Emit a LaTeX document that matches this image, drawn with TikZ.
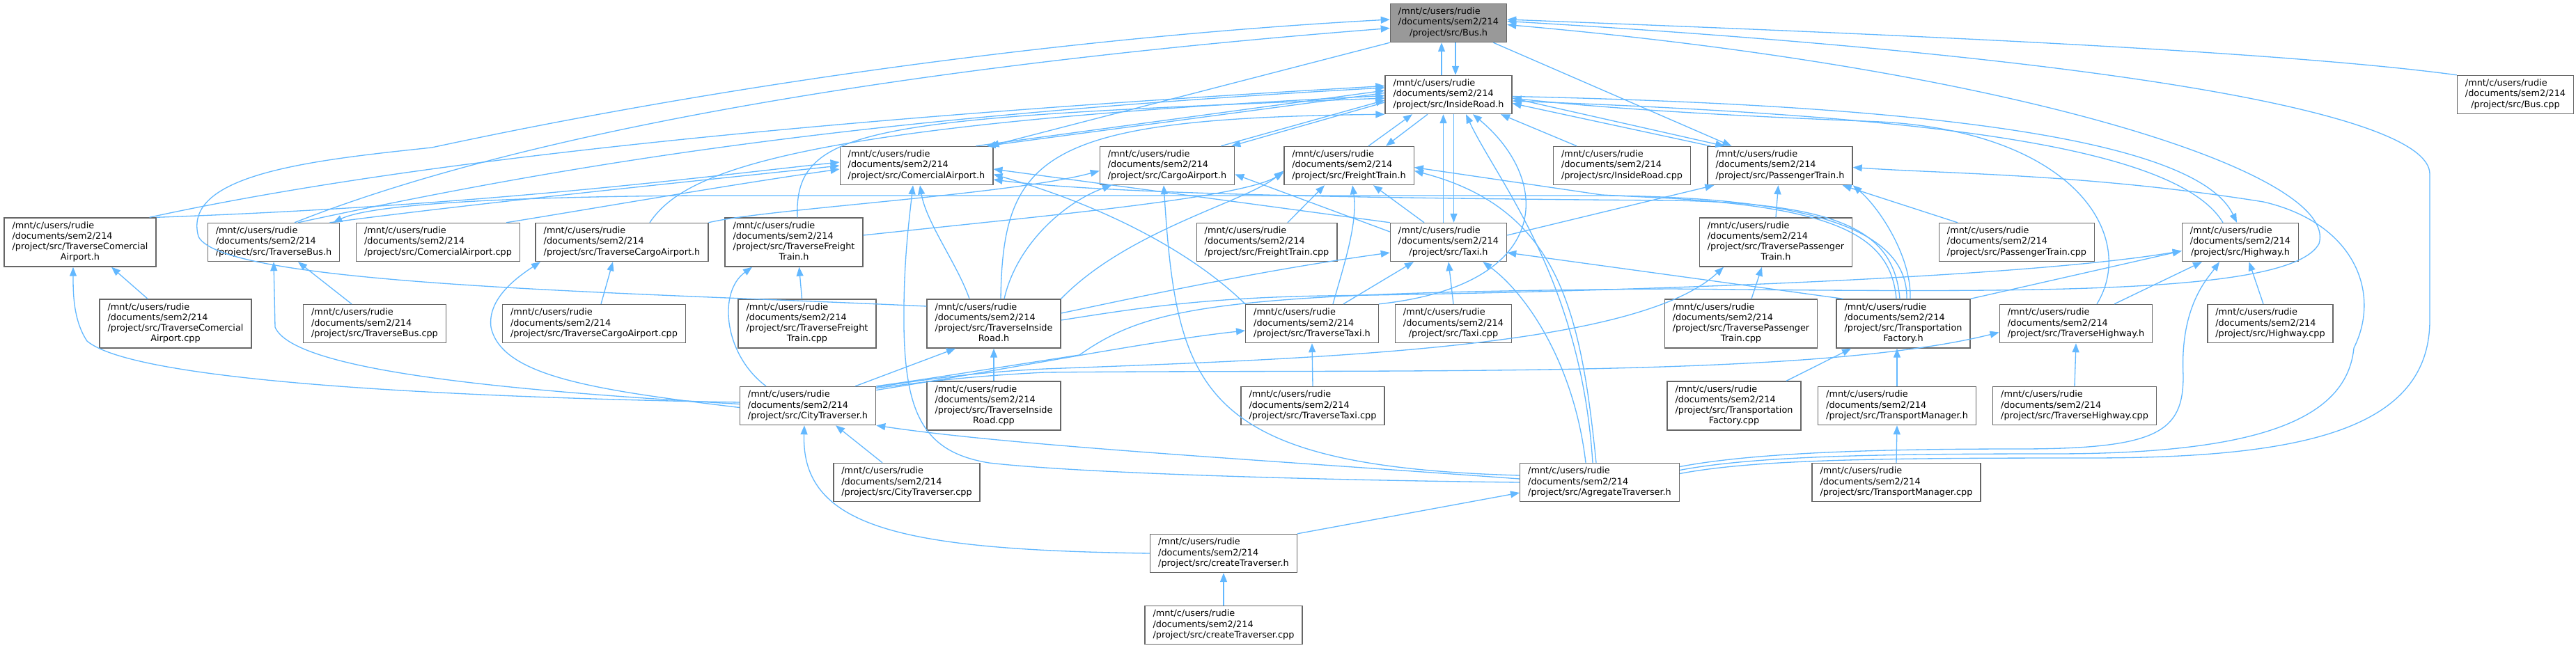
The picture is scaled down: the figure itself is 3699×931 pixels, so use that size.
\documentclass[tikz,border=0pt]{standalone}
\usepackage{fontspec}
\setmainfont{DejaVu Sans}
\usepackage{xcolor}
\usetikzlibrary{arrows.meta, calc}

\definecolor{edgeblue}{HTML}{63B8FF}
\definecolor{boxgray}{HTML}{666666}
\definecolor{focusgray}{HTML}{999999}

% three and four line file labels, last line centred
\newcommand{\incpath}[1]{\begin{tabular}{@{}l@{}}/mnt/c/users/rudie\\/documents/sem2/214\\\multicolumn{1}{@{}c@{}}{#1}\end{tabular}}
\newcommand{\incpathw}[2]{\begin{tabular}{@{}l@{}}/mnt/c/users/rudie\\/documents/sem2/214\\#1\\\multicolumn{1}{@{}c@{}}{#2}\end{tabular}}

\begin{document}
\begin{tikzpicture}[
    x=0.2mm, y=-0.2mm,
    filebox/.style={draw=boxgray, fill=white, line width=0.8pt, inner xsep=2.3mm, inner ysep=1mm, font=\fontsize{7.3}{8.54}\selectfont},
    focusbox/.style={filebox, fill=focusgray},
    incarrow/.style={draw=edgeblue, line width=0.75pt, -{Triangle[length=2.6mm,width=2mm]}}
]
    \useasboundingbox (0,0) rectangle (3699,931);

    % --- Top ---
    \node[focusbox] (bush) at (2080,33) {\incpath{/project/src/Bus.h}};
    \node[filebox] (irh) at (2080,136) {\incpath{/project/src/InsideRoad.h}};
    \node[filebox] (buscpp) at (3612,136) {\incpath{/project/src/Bus.cpp}};

    % --- Transport headers ---
    \node[filebox] (cah) at (1316,238) {\incpath{/project/src/ComercialAirport.h}};
    \node[filebox] (cgh) at (1676,238) {\incpath{/project/src/CargoAirport.h}};
    \node[filebox] (fth) at (1937,238) {\incpath{/project/src/FreightTrain.h}};
    \node[filebox] (ircpp) at (2329,238) {\incpath{/project/src/InsideRoad.cpp}};
    \node[filebox] (pth) at (2556,238) {\incpath{/project/src/PassengerTrain.h}};

    % --- Traverse headers, row 4 ---
    \node[filebox] (tcah) at (115,348) {\incpathw{/project/src/TraverseComercial}{Airport.h}};
    \node[filebox] (tbh) at (393,348) {\incpath{/project/src/TraverseBus.h}};
    \node[filebox] (cacpp) at (629,348) {\incpath{/project/src/ComercialAirport.cpp}};
    \node[filebox] (tcgh) at (893,348) {\incpath{/project/src/TraverseCargoAirport.h}};
    \node[filebox] (tfth) at (1140,348) {\incpathw{/project/src/TraverseFreight}{Train.h}};
    \node[filebox] (ftcpp) at (1819,348) {\incpath{/project/src/FreightTrain.cpp}};
    \node[filebox] (taxih) at (2080,348) {\incpath{/project/src/Taxi.h}};
    \node[filebox] (tpth) at (2550,348) {\incpathw{/project/src/TraversePassenger}{Train.h}};
    \node[filebox] (ptcpp) at (2896,348) {\incpath{/project/src/PassengerTrain.cpp}};
    \node[filebox] (hwh) at (3217,348) {\incpath{/project/src/Highway.h}};

    % --- Row 5 ---
    \node[filebox] (tcacpp) at (252,465) {\incpathw{/project/src/TraverseComercial}{Airport.cpp}};
    \node[filebox] (tbcpp) at (538,465) {\incpath{/project/src/TraverseBus.cpp}};
    \node[filebox] (tcgcpp) at (853,465) {\incpath{/project/src/TraverseCargoAirport.cpp}};
    \node[filebox] (tftcpp) at (1159,465) {\incpathw{/project/src/TraverseFreight}{Train.cpp}};
    \node[filebox] (tirh) at (1427,465) {\incpathw{/project/src/TraverseInside}{Road.h}};
    \node[filebox] (ttxh) at (1884,465) {\incpath{/project/src/TraverseTaxi.h}};
    \node[filebox] (taxicpp) at (2087,465) {\incpath{/project/src/Taxi.cpp}};
    \node[filebox] (tptcpp) at (2500,465) {\incpathw{/project/src/TraversePassenger}{Train.cpp}};
    \node[filebox] (tfh) at (2733,465) {\incpathw{/project/src/Transportation}{Factory.h}};
    \node[filebox] (thwh) at (2981,465) {\incpath{/project/src/TraverseHighway.h}};
    \node[filebox] (hwcpp) at (3260,465) {\incpath{/project/src/Highway.cpp}};

    % --- Row 6 ---
    \node[filebox] (cth) at (1160,583) {\incpath{/project/src/CityTraverser.h}};
    \node[filebox] (tircpp) at (1427,583) {\incpathw{/project/src/TraverseInside}{Road.cpp}};
    \node[filebox] (ttxcpp) at (1885,583) {\incpath{/project/src/TraverseTaxi.cpp}};
    \node[filebox] (tfcpp) at (2490,583) {\incpathw{/project/src/Transportation}{Factory.cpp}};
    \node[filebox] (tmh) at (2724,583) {\incpath{/project/src/TransportManager.h}};
    \node[filebox] (thwcpp) at (2979,583) {\incpath{/project/src/TraverseHighway.cpp}};

    % --- Row 7 and bottom ---
    \node[filebox] (ctcpp) at (1302,693) {\incpath{/project/src/CityTraverser.cpp}};
    \node[filebox] (agh) at (2297,693) {\incpath{/project/src/AgregateTraverser.h}};
    \node[filebox] (tmcpp) at (2723,693) {\incpath{/project/src/TransportManager.cpp}};
    \node[filebox] (crh) at (1757,795) {\incpath{/project/src/createTraverser.h}};
    \node[filebox] (crcpp) at (1757,898) {\incpath{/project/src/createTraverser.cpp}};

    % Bus.h
    \draw[incarrow] ([xshift=-2mm]irh.north) -- ([xshift=-2mm]bush.south);
    \draw[incarrow] ([xshift=2mm]bush.south) -- ([xshift=2mm]irh.north);
    \draw[incarrow] (buscpp.north west) .. controls (3250,70) and (2600,45) .. ([yshift=1mm]bush.east);
    \draw[incarrow] ([xshift=6mm]tbh.north) .. controls (750,190) and (1300,95) .. ([yshift=-1.5mm]bush.west);
    \draw[incarrow] ([yshift=5mm]tirh.west) .. controls (900,420) and (320,410) .. (285,340) .. controls (260,250) and (450,230) .. (620,212) .. controls (1000,130) and (1500,55) .. ([yshift=1mm]bush.west);
    \draw[incarrow] ([yshift=2.5mm]agh.east) .. controls (2520,660) and (2700,658) .. (3000,658) .. controls (3300,658) and (3489,620) .. (3489,460) -- (3489,250) .. controls (3489,160) and (3000,80) .. ([yshift=0.5mm]bush.east);
    \draw[incarrow] (cth.north east) .. controls (1330,545) and (1420,530) .. (1550,510) .. controls (1650,440) and (1750,420) .. (2400,415) .. controls (2900,420) and (3290,425) .. (3330,350) .. controls (3360,250) and (2900,100) .. ([yshift=-0.5mm]bush.east);
    \draw[incarrow] (bush.south west) -- ([xshift=-1mm]cah.north east);
    \draw[incarrow] ([xshift=-4mm]bush.south east) -- ([xshift=7mm]pth.north west);

    % InsideRoad.h and the transport headers
    \draw[incarrow] ([xshift=-5mm]cah.north east) -- ([yshift=1.2mm]irh.west);
    \draw[incarrow] ([yshift=0.5mm]irh.west) -- ([xshift=-2mm]cah.north east);
    \draw[incarrow] ([xshift=-4mm]cgh.north east) -- ([yshift=-1.6mm]irh.west);
    \draw[incarrow] ([yshift=-2.2mm]irh.west) -- ([xshift=-1mm]cgh.north east);
    \draw[incarrow] ([xshift=5.6mm]fth.north) -- ([xshift=-10.4mm]irh.south);
    \draw[incarrow] ([xshift=-6mm]irh.south) -- ([xshift=10.6mm]fth.north);
    \draw[incarrow] ([xshift=-1.5mm]taxih.north) -- ([xshift=-1.5mm]irh.south);
    \draw[incarrow] ([xshift=1.5mm]irh.south) -- ([xshift=1.5mm]taxih.north);
    \draw[incarrow] ([xshift=1mm]pth.north west) -- ([yshift=-2.5mm]irh.east);
    \draw[incarrow] ([yshift=-1mm]irh.east) -- ([xshift=5mm]pth.north west);
    \draw[incarrow] ([yshift=-0.5mm]irh.east) .. controls (2700,150) and (3150,190) .. ([xshift=-1mm]hwh.north);
    \draw[incarrow] ([xshift=-5mm]hwh.north) .. controls (3120,200) and (2700,165) .. ([yshift=-1.8mm]irh.east);
    \draw[incarrow] ([xshift=-13mm]ircpp.north) -- ([xshift=15mm]irh.south);

    % Traverse headers, left side
    \draw[incarrow] ([xshift=-2mm]tcah.north east) .. controls (500,250) and (1000,180) .. ([yshift=2.5mm]irh.west);
    \draw[incarrow] (tcah.north east) .. controls (700,295) and (1000,255) .. ([yshift=1mm]cah.west);
    \draw[incarrow] ([xshift=7mm]tbh.north) .. controls (800,240) and (1200,170) .. ([yshift=2mm]irh.west);
    \draw[incarrow] ([xshift=-3mm]tbh.north east) .. controls (700,290) and (1000,260) .. (cah.west);
    \draw[incarrow] ([xshift=-4mm]cacpp.north east) .. controls (850,300) and (1050,265) .. ([yshift=-1mm]cah.west);
    \draw[incarrow] ([xshift=8mm]tcgh.north) .. controls (980,250) and (1120,180) .. ([yshift=-0.3mm]irh.west);
    \draw[incarrow] (tcgh.north east) .. controls (1100,300) and (1450,280) .. ([yshift=-1.5mm]cgh.west);
    \draw[incarrow] ([xshift=1mm]tfth.north) .. controls (1140,180) and (1250,170) .. ([yshift=-1mm]irh.west);
    \draw[incarrow] ([yshift=2mm]tfth.east) .. controls (1500,310) and (1780,285) .. ([yshift=-2mm]fth.west);
    \draw[incarrow] ([xshift=-8mm]tcacpp.north) -- ([xshift=9mm]tcah.south);
    \draw[incarrow] ([xshift=-6.6mm]tbcpp.north) -- ([xshift=7mm]tbh.south);
    \draw[incarrow] ([xshift=2mm]tcgcpp.north) -- ([xshift=-2.6mm]tcgh.south);
    \draw[incarrow] ([xshift=-1.5mm]tftcpp.north) -- ([xshift=1.5mm]tfth.south);
    \draw[incarrow] ([xshift=6mm]ftcpp.north) -- ([xshift=-7mm]fth.south);

    % TraverseInsideRoad.h
    \draw[incarrow] ([xshift=-7mm]tirh.north) .. controls (1375,380) and (1330,320) .. ([xshift=1mm]cah.south);
    \draw[incarrow] ([xshift=3mm]tirh.north) .. controls (1460,350) and (1530,290) .. ([xshift=-16mm]cgh.south);
    \draw[incarrow] ([xshift=2mm]tirh.north) .. controls (1440,220) and (1500,170) .. (irh.south west);
    \draw[incarrow] ([yshift=3mm]tirh.east) .. controls (1620,430) and (1800,390) .. ([yshift=-3mm]taxih.west);
    \draw[incarrow] (tirh.north east) .. controls (1620,330) and (1790,290) .. ([yshift=-1.5mm]fth.west);
    \draw[incarrow] ([yshift=1mm]tirh.east) .. controls (1620,445) and (1720,428) .. (1900,425) .. controls (2300,420) and (2900,400) .. ([yshift=-2.5mm]hwh.west);
    \draw[incarrow] (tircpp.north) -- (tirh.south);

    % Taxi.h and TraverseTaxi.h
    \draw[incarrow] ([xshift=9mm]ttxh.north) -- ([xshift=-10mm]taxih.south);
    \draw[incarrow] (ttxcpp.north) -- (ttxh.south);
    \draw[incarrow] (ttxh.north east) .. controls (2230,410) and (2230,260) .. ([xshift=7mm]irh.south);
    \draw[incarrow] (ttxh.north west) .. controls (1720,370) and (1600,300) .. ([yshift=-2.5mm]cah.east);
    \draw[incarrow] ([xshift=6mm]ttxh.north) .. controls (1930,380) and (1950,320) .. ([xshift=1mm]fth.south);
    \draw[incarrow] (taxih.north west) -- ([yshift=-1mm]cah.east);
    \draw[incarrow] ([yshift=3mm]taxih.west) -- ([yshift=-2.5mm]cgh.east);
    \draw[incarrow] ([xshift=-7mm]taxih.north) -- ([xshift=7mm]fth.south);
    \draw[incarrow] ([yshift=2mm]taxih.east) -- ([xshift=2mm]pth.south west);
    \draw[incarrow] (taxicpp.north) -- (taxih.south);

    % PassengerTrain.h and Highway.h
    \draw[incarrow] (tpth.north) -- ([xshift=-0.5mm]pth.south);
    \draw[incarrow] ([xshift=3mm]tptcpp.north) -- ([xshift=-4mm]tpth.south);
    \draw[incarrow] ([xshift=-17mm]ptcpp.north) -- ([xshift=-3mm]pth.south east);
    \draw[incarrow] ([xshift=11mm]thwh.north) -- ([xshift=-11mm]hwh.south);
    \draw[incarrow] ([xshift=-2mm]hwcpp.north) -- ([xshift=2.5mm]hwh.south);
    \draw[incarrow] (thwcpp.north) -- (thwh.south);
    \draw[incarrow] ([xshift=6mm]thwh.north) .. controls (3070,340) and (2980,190) .. (2700,175) .. controls (2450,165) and (2300,155) .. ([yshift=-1mm]irh.east);

    % TransportationFactory.h
    \draw[incarrow] ([xshift=15mm]tfcpp.north) -- ([xshift=-15mm]tfh.south);
    \draw[incarrow] (tmh.north) -- (tmh.north |- tfh.south);
    \draw[incarrow] (tmcpp.north) -- (tmh.south);
    \draw[incarrow] ([xshift=2mm]tfh.north west) -- ([yshift=-3mm]taxih.east);
    \draw[incarrow] ([xshift=-2mm]tfh.north) .. controls (2715,340) and (2640,300) .. (2400,285) -- (2300,280) -- ([yshift=-0.5mm]fth.east);
    \draw[incarrow] ([xshift=-1mm]tfh.north) .. controls (2720,335) and (2650,292) .. (2400,288) .. controls (2000,285) and (1600,280) .. ([yshift=-4mm]cah.east);
    \draw[incarrow] ([xshift=1mm]tfh.north) .. controls (2740,330) and (2600,283) .. (2300,281) -- (1000,281) .. controls (700,283) and (530,295) .. ([xshift=-2mm]tbh.north east);
    \draw[incarrow] ([xshift=2mm]tfh.north) .. controls (2745,370) and (2700,300) .. (pth.south east);
    \draw[incarrow] (tfh.north east) -- ([yshift=-2.5mm]hwh.west);

    % CityTraverser.h
    \draw[incarrow] ([yshift=1mm]cth.west) .. controls (600,570) and (190,545) .. (125,490) .. controls (105,460) and (105,420) .. ([xshift=-2mm]tcah.south);
    \draw[incarrow] ([yshift=0.5mm]cth.west) .. controls (700,560) and (420,530) .. (395,470) -- (tbh.south);
    \draw[incarrow] ([yshift=-0.5mm]cth.west) .. controls (850,560) and (720,540) .. (705,470) .. controls (700,430) and (740,400) .. ([xshift=1.5mm]tcgh.south west);
    \draw[incarrow] ([xshift=-12mm]cth.north) .. controls (1040,510) and (1030,420) .. ([xshift=-12mm]tfth.south);
    \draw[incarrow] ([xshift=-6mm]cth.north east) -- ([xshift=-11mm]tirh.south);
    \draw[incarrow] ([yshift=4.5mm]cth.east) .. controls (1450,530) and (1650,490) .. ([yshift=-2mm]ttxh.west);
    \draw[incarrow] ([yshift=-0.3mm]cth.north east) .. controls (1330,545) and (1400,535) .. (1500,530) .. controls (1900,515) and (2350,500) .. ([xshift=-15mm]tpth.south);
    \draw[incarrow] ([yshift=-0.6mm]cth.north east) .. controls (1330,548) and (1400,540) .. (1500,535) .. controls (2000,530) and (2600,545) .. ([yshift=-2.5mm]thwh.west);
    \draw[incarrow] ([xshift=-7mm]ctcpp.north) -- ([xshift=8mm]cth.south);
    \draw[incarrow] (crh.west) .. controls (1300,790) and (1150,760) .. ([xshift=-1mm]cth.south);

    % AgregateTraverser.h and createTraverser.h
    \draw[incarrow] (crh.north east) -- ([yshift=-3mm]agh.west);
    \draw[incarrow] (crcpp.north) -- (crh.south);
    \draw[incarrow] ([yshift=1mm]agh.west) .. controls (1800,660) and (1450,640) .. (cth.south east);
    \draw[incarrow] (agh.west) .. controls (1900,690) and (1550,680) .. (1420,665) .. controls (1330,650) and (1300,600) .. (1298,470) .. controls (1297,380) and (1305,320) .. ([xshift=-1mm]cah.south);
    \draw[incarrow] ([yshift=2mm]agh.west) .. controls (1720,670) and (1690,560) .. ([xshift=-1mm]cgh.south);
    \draw[incarrow] ([xshift=-4mm]agh.north) .. controls (2260,520) and (2190,420) .. ([xshift=-7mm]taxih.south east);
    \draw[incarrow] ([xshift=-2mm]agh.north) .. controls (2270,400) and (2150,260) .. ([xshift=5mm]irh.south);
    \draw[incarrow] ([xshift=-1mm]agh.north) .. controls (2270,450) and (2240,300) .. ([yshift=-1.5mm]fth.east);
    \draw[incarrow] ([yshift=4.5mm]agh.east) .. controls (2520,650) and (2700,645) .. (2900,645) .. controls (3100,645) and (3135,620) .. (3135,540) .. controls (3130,440) and (3170,400) .. ([xshift=-6mm]hwh.south);
    \draw[incarrow] ([yshift=3.5mm]agh.east) .. controls (2520,655) and (2700,652) .. (2950,652) .. controls (3250,652) and (3370,600) .. (3380,500) .. controls (3420,420) and (3380,320) .. (3250,290) .. controls (3000,250) and (2800,250) .. ([yshift=-0.5mm]pth.east);

\end{tikzpicture}
\end{document}
